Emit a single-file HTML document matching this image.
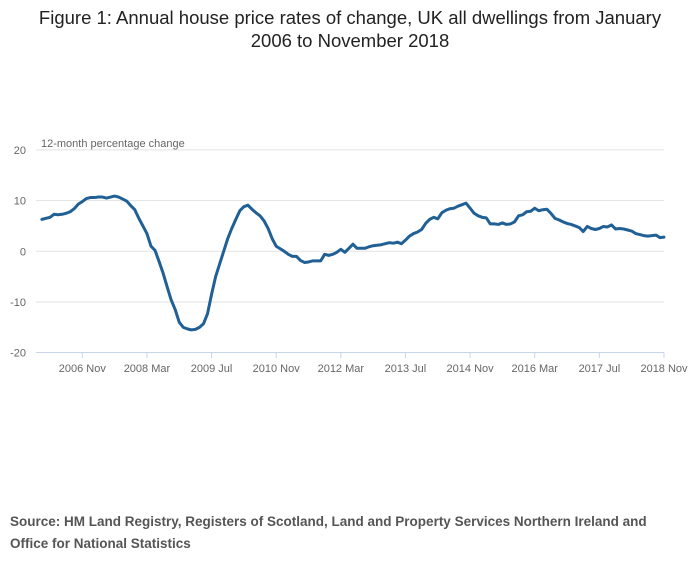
<!DOCTYPE html>
<html><head><meta charset="utf-8"><style>
body{margin:0;background:#fff;font-family:"Liberation Sans",sans-serif;}
#wrap{position:relative;width:700px;height:574px;overflow:hidden}
.title{position:absolute;top:6px;left:0;width:700px;text-align:center;font-size:18.5px;line-height:23px;color:#222}
.src{position:absolute;left:10px;top:511px;font-size:13.5px;line-height:22px;font-weight:bold;color:#555;width:650px}
</style></head><body>
<div id="wrap">
<div class="title">Figure 1: Annual house price rates of change, UK all dwellings from January<br>2006 to November 2018</div>
<svg id="chart" width="700" height="574" style="position:absolute;left:0;top:0"></svg>
<div class="src">Source: HM Land Registry, Registers of Scotland, Land and Property Services Northern Ireland and<br>Office for National Statistics</div>
</div>
<script>
const yTicks=[20,10,0,-10,-20];
const xTickIdx=[10,26,42,58,74,90,106,122,138,154];
const xTickLabels=["2006 Nov","2008 Mar","2009 Jul","2010 Nov","2012 Mar","2013 Jul","2014 Nov","2016 Mar","2017 Jul","2018 Nov"];
const values=[
6.3,6.5,6.7,7.3,7.2,7.3,7.5,7.8,8.4,9.3,9.8,10.4,
10.6,10.6,10.7,10.7,10.5,10.7,10.9,10.7,10.3,9.9,9.0,8.2,
6.5,5.0,3.5,1.0,0.2,-2.0,-4.3,-7.0,-9.6,-11.5,-14.0,-15.0,
-15.3,-15.5,-15.4,-15.0,-14.3,-12.3,-8.5,-5.0,-2.5,0.0,2.5,4.5,
6.3,8.0,8.8,9.1,8.3,7.6,7.0,6.0,4.5,2.5,1.0,0.5,
0.0,-0.6,-1.0,-1.0,-1.8,-2.2,-2.1,-1.9,-1.9,-1.9,-0.6,-0.8,
-0.6,-0.2,0.4,-0.2,0.6,1.4,0.6,0.6,0.6,0.9,1.1,1.2,
1.3,1.5,1.7,1.6,1.8,1.5,2.2,3.0,3.5,3.8,4.3,5.5,
6.3,6.7,6.4,7.6,8.1,8.4,8.5,8.9,9.2,9.5,8.5,7.5,
7.0,6.7,6.6,5.4,5.4,5.3,5.6,5.3,5.4,5.8,7.0,7.2,
7.8,7.9,8.5,8.0,8.2,8.3,7.5,6.5,6.2,5.8,5.5,5.3,
5.0,4.7,3.9,4.9,4.5,4.3,4.5,4.9,4.8,5.2,4.4,4.5,
4.4,4.2,4.0,3.5,3.3,3.1,3.0,3.1,3.2,2.7,2.8];
const NS="http://www.w3.org/2000/svg";
const svg=document.getElementById('chart');
const x=i=>41.9+i*(664-41.9)/154;
const y=v=>251.3-v*5.07;
function mk(t,a){const e=document.createElementNS(NS,t);for(const k in a)e.setAttribute(k,a[k]);svg.appendChild(e);return e;}
yTicks.forEach(v=>{
  if(v>-20){const g=mk('line',{x1:36,x2:664,y1:y(v),y2:y(v),stroke:'#e2e2e2','stroke-width':1});
  
  }
  const t=mk('text',{x:26,y:y(v)+4,'text-anchor':'end','font-size':11,fill:'#666','font-family':'Liberation Sans, sans-serif'});
  t.textContent=v;
  
  
});
const ax=mk('line',{x1:36,x2:664,y1:352.5,y2:352.5,stroke:'#c8d4e8','stroke-width':1});


xTickIdx.forEach((ix,k)=>{
  const tk=mk('line',{x1:x(ix),x2:x(ix),y1:352.5,y2:358,stroke:'#c8d4e8','stroke-width':1});
  
  
  const t=mk('text',{x:x(ix),y:372,'text-anchor':'middle','font-size':11,fill:'#666','font-family':'Liberation Sans, sans-serif'});
  t.textContent=xTickLabels[k];
  
  
});
const yl=mk('text',{x:41,y:147,'font-size':11,fill:'#666','font-family':'Liberation Sans, sans-serif'});
yl.textContent='12-month percentage change';


const d=values.map((v,i)=>(i?'L':'M')+x(i).toFixed(2)+','+y(v).toFixed(2)).join('');
const p=mk('path',{d:d,fill:'none',stroke:'#206095','stroke-width':3,'stroke-linejoin':'round','stroke-linecap':'round'});


</script>
</body></html>
